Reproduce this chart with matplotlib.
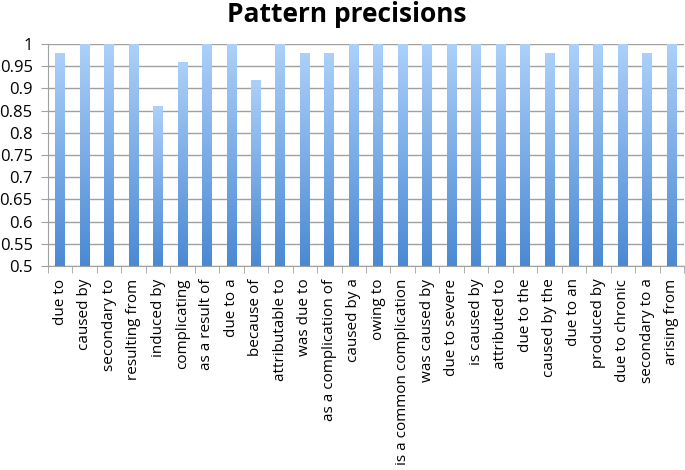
import numpy as np
import matplotlib
matplotlib.use("Agg")
import matplotlib.pyplot as plt
from matplotlib.colors import LinearSegmentedColormap

categories = ["due to", "caused by", "secondary to", "resulting from", "induced by",
              "complicating", "as a result of", "due to a", "because of",
              "attributable to", "was due to", "as a complication of", "caused by a",
              "owing to", "is a common complication", "was caused by", "due to severe",
              "is caused by", "attributed to", "due to the", "caused by the",
              "due to an", "produced by", "due to chronic", "secondary to a",
              "arising from"]
precisions = [0.98, 1, 1, 1, 0.86, 0.96, 1, 1, 0.92, 1, 0.98, 0.98, 1, 1, 1, 1,
              1, 1, 1, 1, 0.98, 1, 1, 1, 0.98, 1]
yticks = [0.5, 0.55, 0.6, 0.65, 0.7, 0.75, 0.8, 0.85, 0.9, 0.95, 1]
ytick_labels = ["0.5", "0.55", "0.6", "0.65", "0.7", "0.75", "0.8", "0.85", "0.9", "0.95", "1"]

plt.rcParams['font.family'] = ['Open Sans', 'DejaVu Sans']

fig = plt.figure(figsize=(6.85, 4.70), dpi=100)
ax = fig.add_axes([48/685, 1 - 266/470, (684 - 48)/685, (266 - 44)/470])

x = np.arange(len(categories))
bars = ax.bar(x, precisions, width=0.4, bottom=0, color='none', edgecolor='none', zorder=3)

cmap = LinearSegmentedColormap.from_list("g", ["#4a89d3", "#acd0fa"])
grad = np.linspace(0, 1, 256).reshape(-1, 1)
for b in bars:
    x0 = b.get_x()
    w = b.get_width()
    h = b.get_height()
    im = ax.imshow(grad, cmap=cmap, origin='lower', aspect='auto',
                   extent=[x0, x0 + w, 0.5, h], zorder=3, interpolation='bilinear')
    im.set_clip_path(b)

ax.set_xlim(-0.5, len(categories) - 0.5)
ax.set_ylim(0.5, 1.0)
ax.set_yticks(yticks)
ax.set_yticklabels(ytick_labels, fontsize=12)
ax.yaxis.grid(True, color='#a0a0a0', linewidth=1.0, zorder=0)
ax.set_axisbelow(True)
ax.tick_params(axis='y', length=5, color='#a0a0a0', pad=6)

ax.set_xticks(x)
ax.set_xticklabels(categories, rotation=90, fontsize=11, va='top')
ax.tick_params(axis='x', length=0, pad=9)
ax.set_xticks(np.arange(-0.5, len(categories), 1), minor=True)
ax.tick_params(axis='x', which='minor', length=5, color='#a0a0a0', direction='out')

for s in ['top', 'right']:
    ax.spines[s].set_visible(False)
ax.spines['left'].set_color('#a0a0a0')
ax.spines['bottom'].set_color('#a0a0a0')

fig.suptitle("Pattern precisions", fontsize=19, fontweight='bold', x=347/685, y=1 - 1/470, va='top')

fig.savefig("out.png", dpi=100)
